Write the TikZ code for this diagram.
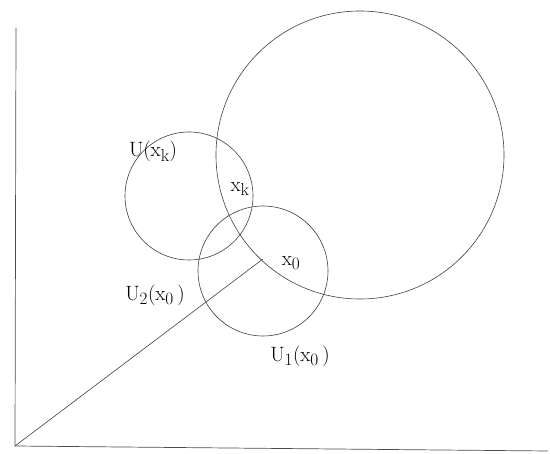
\documentclass[tikz,border=0pt]{standalone}
\DeclareMathSizes{22}{22}{17}{13}
\begin{document}
\begin{tikzpicture}[
    x=1pt, y=-1pt,
    every node/.style={font=\fontsize{22}{26}\selectfont},
    axis/.style={draw=black!70, line width=0.7pt},
    nbhd/.style={draw=black!75, line width=0.6pt},
    lbl/.style={inner sep=1pt},
]
\useasboundingbox (0,0) rectangle (550,454);
% axes
\coordinate (O)    at (15,446);
\coordinate (ytop) at (16,28);
\coordinate (xend) at (548,451);
\draw[axis] (ytop) -- (O) -- (xend);
% neighbourhoods
\coordinate (cbig) at (360,155);
\coordinate (ck)   at (189,196);
\coordinate (c1)   at (263,271);
\draw[nbhd] (cbig) circle[radius=144];
\draw[nbhd] (ck)   circle[radius=64];
\draw[nbhd] (c1)   circle[radius=65];
% segment from the origin to x_0
\coordinate (x0) at (263,259);
\draw[nbhd] (O) -- (x0);
% labels
\node[lbl] (Uk)  at (153,151) {$\mathrm{U}(\mathrm{x}_{\mathrm{k}})$};
\node[lbl] (xk)  at (240,189) {$\mathrm{x}_{\mathrm{k}}$};
\node[lbl] (xo)  at (291,263) {$\mathrm{x}_{0}$};
\node[lbl] (U2)  at (155,295) {$\mathrm{U}_{2}(\mathrm{x}_{0}\,)$};
\node[lbl] (U1)  at (300,356) {$\mathrm{U}_{1}(\mathrm{x}_{0}\,)$};
\end{tikzpicture}
\end{document}
